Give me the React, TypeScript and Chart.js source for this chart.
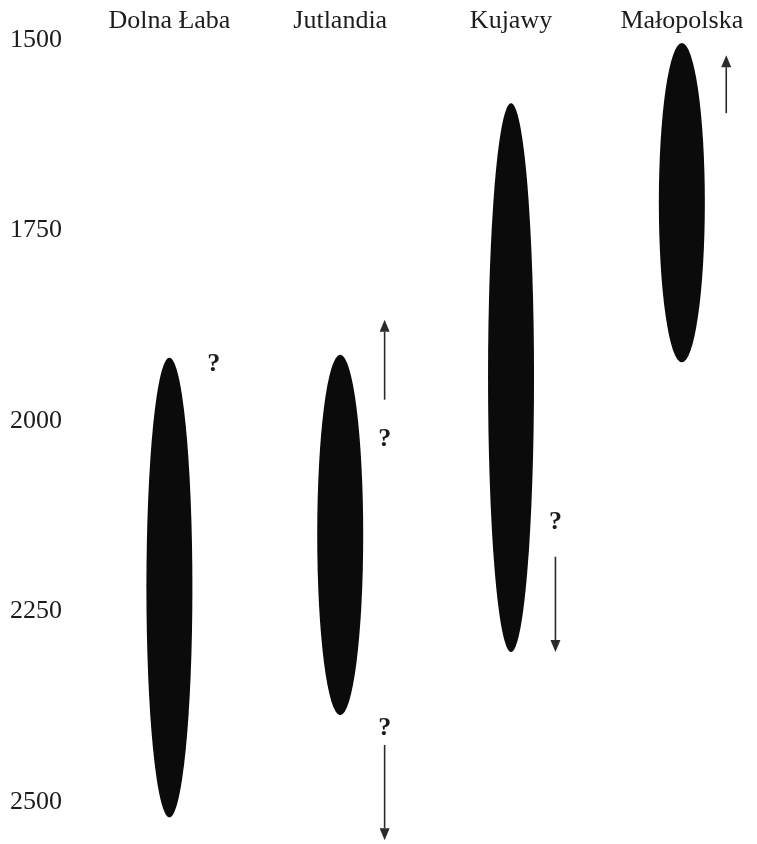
import React, { useEffect, useRef } from 'react';
import { Chart, registerables } from 'chart.js';

Chart.register(...registerables);

// ---- data ----
const REGIONS = ['Dolna Łaba', 'Jutlandia', 'Kujawy', 'Małopolska'];
const RANGE_START = [1917, 1913, 1583, 1504];
const RANGE_END = [2520, 2386, 2303, 1923];
const Y_TICKS = [1500, 1750, 2000, 2250, 2500];

// arrows: region index, tail year, tip year
const ARROW_REGION = [1, 1, 2, 3];
const ARROW_FROM = [1972, 2425, 2178, 1596];
const ARROW_TO = [1867, 2550, 2303, 1520];

// question marks: region index, year
const QMARK_REGION = [0, 1, 1, 2];
const QMARK_YEAR = [1925, 2024, 2403, 2133];

// ---- styles ----
const TEXT_FONT = { family: "'Liberation Serif', 'Times New Roman', serif", size: 26, lineHeight: 1 };
const TEXT_COLOR = '#1c1c1c';
const ELLIPSE_COLOR = '#0b0b0b';
const ELLIPSE_WIDTH = 46;
const MARK_OFFSET = 0.26;
const ARROW_COLOR = '#2b2b2b';
const HEAD_LEN = 12;
const HEAD_W = 10;

const overlay = {
  id: 'overlay',
  afterDatasetsDraw(chart: any) {
    const { ctx, scales } = chart;
    const x = scales.x;
    const y = scales.y;
    ctx.save();
    // ellipses
    REGIONS.forEach((_, i) => {
      const cx = x.getPixelForValue(i);
      const top = y.getPixelForValue(RANGE_START[i]);
      const bot = y.getPixelForValue(RANGE_END[i]);
      ctx.beginPath();
      ctx.ellipse(cx, (top + bot) / 2, ELLIPSE_WIDTH / 2, Math.abs(bot - top) / 2, 0, 0, Math.PI * 2);
      ctx.fillStyle = ELLIPSE_COLOR;
      ctx.fill();
    });
    // arrows
    ARROW_REGION.forEach((r, k) => {
      const ax = x.getPixelForValue(r + MARK_OFFSET);
      const y0 = y.getPixelForValue(ARROW_FROM[k]);
      const y1 = y.getPixelForValue(ARROW_TO[k]);
      const dir = Math.sign(y1 - y0);
      ctx.strokeStyle = ARROW_COLOR;
      ctx.fillStyle = ARROW_COLOR;
      ctx.lineWidth = 1.6;
      ctx.beginPath();
      ctx.moveTo(ax, y0);
      ctx.lineTo(ax, y1 - dir * HEAD_LEN);
      ctx.stroke();
      ctx.beginPath();
      ctx.moveTo(ax, y1);
      ctx.lineTo(ax - HEAD_W / 2, y1 - dir * HEAD_LEN);
      ctx.lineTo(ax + HEAD_W / 2, y1 - dir * HEAD_LEN);
      ctx.closePath();
      ctx.fill();
    });
    // question marks
    ctx.fillStyle = TEXT_COLOR;
    ctx.font = "bold 26px 'Liberation Serif', serif";
    ctx.textAlign = 'center';
    ctx.textBaseline = 'middle';
    QMARK_REGION.forEach((r, k) => {
      ctx.fillText('?', x.getPixelForValue(r + MARK_OFFSET), y.getPixelForValue(QMARK_YEAR[k]));
    });
    ctx.restore();
  },
};

export default function App() {
  const ref = useRef<HTMLCanvasElement>(null);
  useEffect(() => {
    document.body.style.margin = '0';
    const canvas = ref.current!;
    const chart = new Chart(canvas, {
      type: 'scatter',
      data: {
        datasets: [
          {
            data: REGIONS.map((_, i) => ({ x: i, y: (RANGE_START[i] + RANGE_END[i]) / 2 })),
            pointRadius: 0,
            showLine: false,
          },
        ],
      },
      options: {
        animation: false,
        responsive: false,
        maintainAspectRatio: false,
        layout: { padding: { left: 10, right: 0, top: 0, bottom: 0 } },
        plugins: { legend: { display: false }, tooltip: { enabled: false } },
        scales: {
          x: {
            type: 'linear',
            position: 'top',
            min: -0.5,
            max: 3.44,
            grid: { display: false, drawTicks: false },
            border: { display: false },
            afterBuildTicks: (s: any) => {
              s.ticks = REGIONS.map((_, i) => ({ value: i }));
            },
            afterFit: (s: any) => {
              s.height = 40;
              s.paddingLeft = 0;
              s.paddingRight = 0;
            },
            ticks: {
              callback: (v: any) => REGIONS[v as number] ?? '',
              font: TEXT_FONT,
              color: TEXT_COLOR,
              padding: 6,
              maxRotation: 0,
              autoSkip: false,
            },
          },
          y: {
            type: 'linear',
            position: 'left',
            reverse: true,
            min: 1500,
            max: 2555,
            grid: { display: false, drawTicks: false },
            border: { display: false },
            afterBuildTicks: (s: any) => {
              s.ticks = Y_TICKS.map((v) => ({ value: v }));
            },
            afterFit: (s: any) => {
              s.width = 74;
              s.paddingTop = 0;
              s.paddingBottom = 0;
            },
            ticks: {
              callback: (v: any) => String(v),
              font: TEXT_FONT,
              color: TEXT_COLOR,
              crossAlign: 'far',
              padding: 0,
            },
          },
        },
      },
      plugins: [overlay],
    });
    return () => chart.destroy();
  }, []);
  return (
    <div style={{ width: 757, height: 844, background: '#fff' }}>
      <canvas ref={ref} width={757} height={844} style={{ display: 'block' }} />
    </div>
  );
}
